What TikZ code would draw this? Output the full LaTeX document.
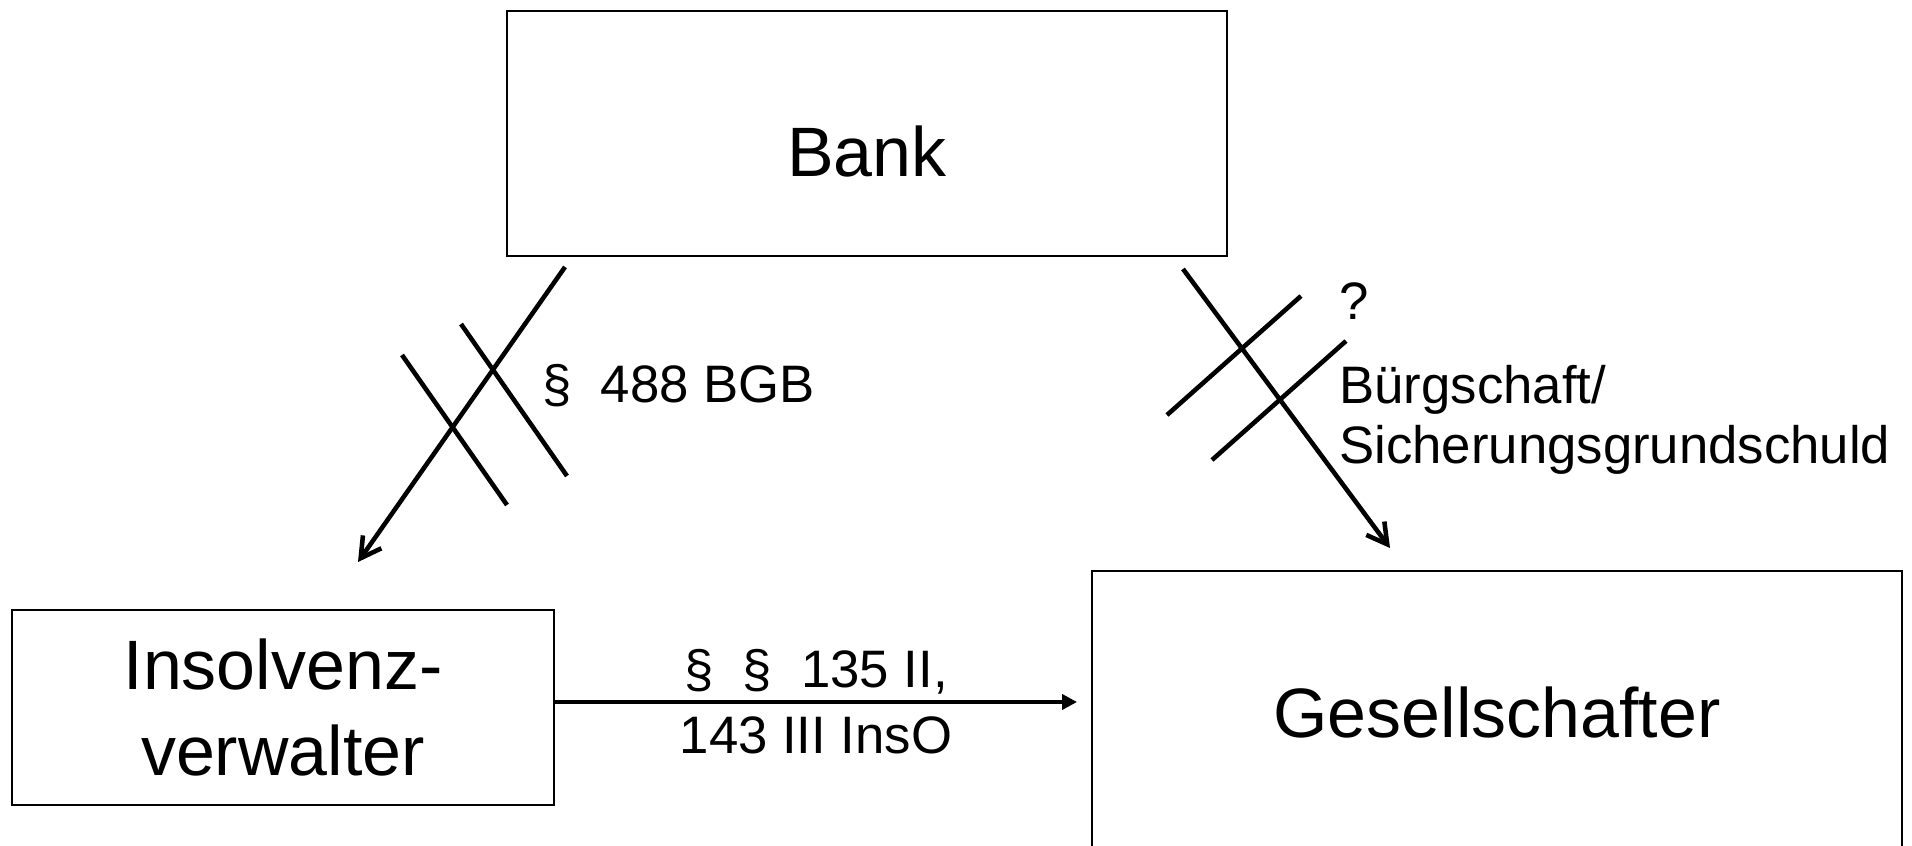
\documentclass[tikz,border=0pt]{standalone}
\usepackage{fontspec}
\setmainfont{Liberation Sans}
\usetikzlibrary{arrows.meta,calc,positioning}
\tikzset{>={Straight Barb[length=.4cm,width=.45cm]},
  every node/.style={font=\fontsize{30}{34.1}\selectfont,inner sep=0pt},
  party/.style={draw,line width=1.1pt,align=center,font=\fontsize{39.8}{48.4}\selectfont},
  claim/.style={->,line width=2.6pt},
  strike/.style={line width=2.6pt},
  recourse/.style={-{Triangle[length=.3cm,width=.3cm]},line width=2.4pt}}

\begin{document}
\begin{tikzpicture}
\useasboundingbox(0,0)rectangle(38.24,16.92);
% parties
\node[party,minimum width=14.4cm,minimum height=4.9cm,text height=1.74cm](bank)at(17.34,14.25){Bank};
\node[party,minimum width=10.84cm,minimum height=3.9cm](ins)at(5.66,2.77){Insolvenz-\\verwalter};
\node[party,minimum width=16.2cm,minimum height=5.68cm](ges)at(29.94,2.66){Gesellschafter};
% bank -> insolvenzverwalter, struck out
\draw[claim]($(bank.south west)+(1.18,-.2)$)--($(ins.north)+(1.5,.94)$);
\draw[strike](8.04,9.82)--(10.14,6.82);\draw[strike](9.22,10.44)--(11.34,7.40);
\node[anchor=base west](bgb)at(10.84,8.86){§\ \ 488 BGB};
% bank -> gesellschafter, struck out
\draw[claim]($(bank.south east)+(-.9,-.24)$)--($(ges.north)+(-2.14,.44)$);
\draw[strike](23.34,8.62)--(26.02,11.0);\draw[strike](24.24,7.72)--(26.92,10.1);
\node[anchor=north west,align=left](sicher)at(26.78,11.27){?\\[.48cm]Bürgschaft/\\Sicherungsgrundschuld};
% anfechtung
\draw[recourse]([yshift=.11cm]ins.east)--([xshift=-.28cm,yshift=.22cm]ges.west)
  node[midway,align=center,font=\fontsize{30}{37.5}\selectfont](inso){§\ \ §\ \ 135 II,\\143 III InsO};
\end{tikzpicture}
\end{document}
